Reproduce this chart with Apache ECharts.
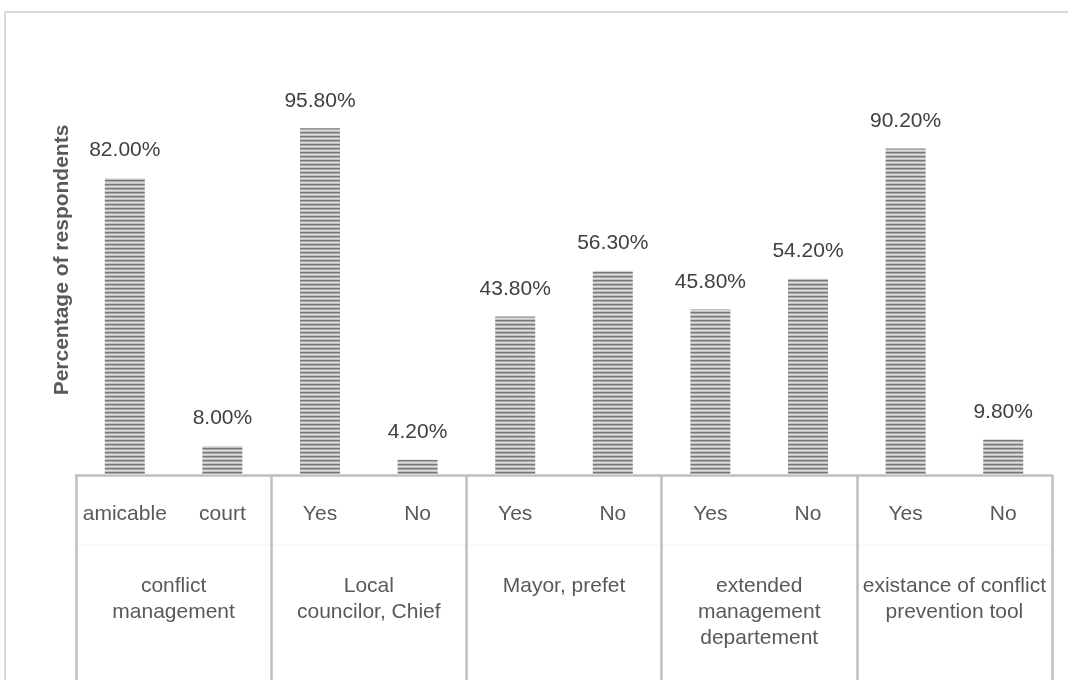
<!DOCTYPE html>
<html><head><meta charset="utf-8">
<script src="https://cdn.jsdelivr.net/npm/echarts@6/dist/echarts.min.js"></script>
<style>html,body{margin:0;padding:0;background:#fff}#c{width:1068px;height:680px}</style>
</head><body><div id="c"></div>
<script>
const categories = ['amicable','court','Yes','No','Yes','No','Yes','No','Yes','No'];
const groups = ['conflict\nmanagement','Local\ncouncilor, Chief','Mayor, prefet','extended\nmanagement\ndepartement','existance of conflict\nprevention tool'];
const values = [82.0, 8.0, 95.8, 4.2, 43.8, 56.3, 45.8, 54.2, 90.2, 9.8];
const yTitle = 'Percentage of respondents';

const pc = document.createElement('canvas');
pc.width = 8; pc.height = 4;
const g = pc.getContext('2d');
const rows = ['#767676','#ababab','#dadada','#c2c2c2'];
rows.forEach((c,i)=>{g.fillStyle=c;g.fillRect(0,i,8,1);});

const chart = echarts.init(document.getElementById('c'));
const FONT = '"Liberation Sans",Arial,sans-serif';
chart.setOption({
  animation:false,
  textStyle:{fontFamily:FONT},
  grid:{left:76,right:16,top:113,bottom:205},
  xAxis:[{
    type:'category', data:categories, position:'bottom',
    axisLine:{lineStyle:{color:'#bfbfbf',width:2.5}},
    axisTick:{show:false},
    axisLabel:{interval:0,hideOverlap:false,color:'#595959',fontSize:21,margin:29,fontFamily:FONT}
  },{
    type:'category', data:groups, position:'bottom', offset:0,
    axisLine:{show:false},
    axisTick:{show:true,interval:0,length:205,lineStyle:{color:'#bfbfbf',width:2.5}},
    axisLabel:{interval:0,hideOverlap:false,color:'#595959',fontSize:21,margin:98,lineHeight:26,verticalAlign:'top',fontFamily:FONT}
  }],
  yAxis:{type:'value',min:0,max:100,show:false},
  graphic:[{
    type:'rect',shape:{x:5,y:12,width:1070,height:680},
    style:{fill:'none',stroke:'#d9d9d9',lineWidth:2},silent:true
  },{
    type:'text',x:62,y:260,rotation:Math.PI/2,
    style:{text:yTitle,fill:'#595959',font:'bold 21px '+FONT,align:'center',verticalAlign:'middle'}
  },{
    type:'line',shape:{x1:76,y1:545,x2:1052,y2:545},style:{stroke:'#f2f2f2',lineWidth:1},silent:true
  }],
  series:[{
    type:'bar', data:values, barWidth:40, xAxisIndex:0,
    itemStyle:{color:{image:pc,repeat:'repeat'}},
    label:{show:true,position:'top',distance:17,color:'#404040',fontSize:21,fontFamily:FONT,
      formatter:p=>p.value.toFixed(2)+'%'}
  }]
});
</script></body></html>
